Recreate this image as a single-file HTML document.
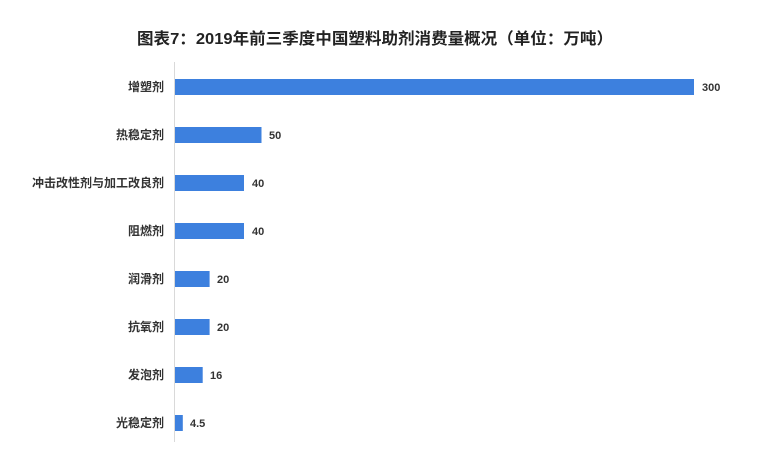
<!DOCTYPE html>
<html><head><meta charset="utf-8"><style>
body{margin:0;background:#fff;}
svg text{font-family:"Liberation Sans","Noto Sans CJK SC",sans-serif;}
</style></head><body>
<svg width="782" height="459" xmlns="http://www.w3.org/2000/svg">
<rect width="782" height="459" fill="#fff"/>
<text x="375" y="44" text-anchor="middle" font-size="16" font-weight="bold" fill="#222" textLength="476" lengthAdjust="spacingAndGlyphs">图表7：2019年前三季度中国塑料助剂消费量概况（单位：万吨）</text>
<line x1="174.5" y1="62" x2="174.5" y2="442" stroke="#d9d9d9" stroke-width="1"/>
<g fill="#3d80de">
<rect x="175" y="79" width="519" height="16"/>
<rect x="175" y="127" width="86.5" height="16"/>
<rect x="175" y="175" width="69" height="16"/>
<rect x="175" y="223" width="69" height="16"/>
<rect x="175" y="271" width="34.6" height="16"/>
<rect x="175" y="319" width="34.6" height="16"/>
<rect x="175" y="367" width="27.7" height="16"/>
<rect x="175" y="415" width="7.8" height="16"/>
</g>
<g font-size="12" font-weight="bold" fill="#333" text-anchor="end">
<text x="164" y="91">增塑剂</text>
<text x="164" y="139">热稳定剂</text>
<text x="164" y="187">冲击改性剂与加工改良剂</text>
<text x="164" y="235">阻燃剂</text>
<text x="164" y="283">润滑剂</text>
<text x="164" y="331">抗氧剂</text>
<text x="164" y="379">发泡剂</text>
<text x="164" y="427">光稳定剂</text>
</g>
<g font-size="11" font-weight="bold" fill="#333">
<text x="702" y="91">300</text>
<text x="269" y="139">50</text>
<text x="252" y="187">40</text>
<text x="252" y="235">40</text>
<text x="217" y="283">20</text>
<text x="217" y="331">20</text>
<text x="210" y="379">16</text>
<text x="190" y="427">4.5</text>
</g>
</svg>
</body></html>
